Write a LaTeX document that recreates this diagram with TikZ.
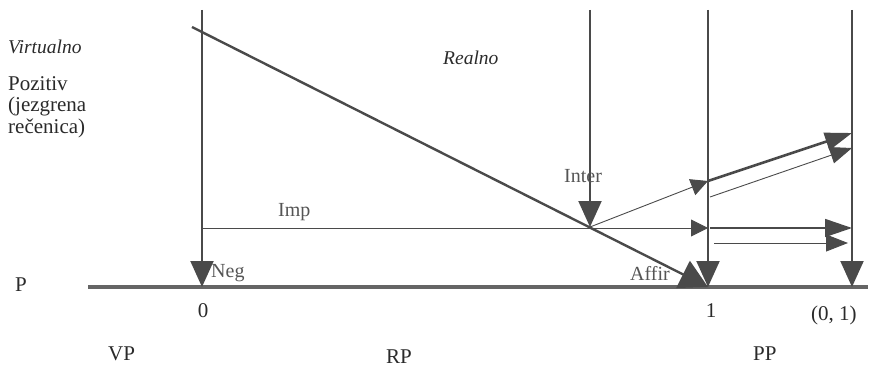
\documentclass[tikz,border=0pt]{standalone}
\usepackage{fontspec}
\setmainfont{Liberation Serif}
\usetikzlibrary{arrows.meta}
\definecolor{ln}{HTML}{4A4A4A}
\definecolor{tx}{HTML}{2A2A2A}
\definecolor{tl}{HTML}{555555}
\begin{document}
\begin{tikzpicture}[x=1pt,y=-1pt,
  lbl/.style={font=\fontsize{21}{21}\selectfont, text=tx, inner sep=0pt, anchor=base west},
  ilbl/.style={lbl, font=\fontsize{19.5}{21}\selectfont\itshape},
  glbl/.style={lbl, text=tl, font=\fontsize{20}{21}\selectfont},
  vline/.style={draw=ln, line width=2pt, -{Triangle[length=26pt,width=23pt]}},
  thinar/.style={draw=ln, line width=0.9pt, -{Triangle[length=17pt,width=17pt]}},
  bigar/.style={draw=ln, line width=1.6pt, -{Triangle[length=27pt,width=18pt]}},
  midar/.style={draw=ln, line width=0.9pt, -{Triangle[length=22pt,width=17pt]}},
  thickar/.style={draw=ln, line width=2.6pt, -{Triangle[length=27pt,width=18pt]}},
]
\useasboundingbox (0,0) rectangle (871,369);
% coordinates
\coordinate (bL) at (88,287);
\coordinate (bR) at (868,287);
\coordinate (z0) at (202,287);
\coordinate (one) at (708,287);
\coordinate (zo) at (852,287);
\coordinate (t0) at (202,10);
\coordinate (tI) at (590,10);
\coordinate (t1) at (708,10);
\coordinate (t2) at (852,10);
\coordinate (dS) at (192,27);
\coordinate (X) at (590,227);
\coordinate (iS) at (202,228);
\coordinate (i1) at (708,228);
\coordinate (i1b) at (710,228);
\coordinate (i2) at (852,228);
\coordinate (l1) at (714,243);
\coordinate (l2) at (848,243);
\coordinate (u1) at (708,181);
\coordinate (u2) at (852,133);
\coordinate (w1) at (710,197);
\coordinate (w2) at (852,148);
% baseline
\draw[draw=ln!85, line width=3.2pt] (bL) -- (bR);
% verticals
\draw[vline] (t0) -- (z0);
\draw[vline] (tI) -- (X);
\draw[vline] (t1) -- (one);
\draw[vline] (t2) -- (zo);
% diagonal
\draw[draw=ln, line width=2.4pt, -{Triangle[length=28pt,width=30pt]}] (dS) -- (one);
% Imp lines
\draw[thinar] (iS) -- (i1);
\draw[bigar] (i1b) -- (i2);
\draw[midar] (l1) -- (l2);
% Inter lines
\draw[thinar] (X) -- (u1);
\draw[thickar] (u1) -- (u2);
\draw[midar] (w1) -- (w2);
% labels
\node[ilbl] (virt) at (8,54) {Virtualno};
\node[lbl] (poz) at (8,91) {Pozitiv};
\node[lbl] (jez) at (8,112) {(jezgrena};
\node[lbl] (rec) at (8,133) {rečenica)};
\node[ilbl] (real) at (443,65) {Realno};
\node[glbl] (inter) at (564,182) {Inter};
\node[glbl] (imp) at (278,216) {Imp};
\node[glbl] (neg) at (211,277) {Neg};
\node[glbl] (affir) at (630,280) {Affir};
\node[lbl] (p) at (15,291) {P};
\node[lbl, anchor=base] (n0) at (203,317) {0};
\node[lbl, anchor=base] (n1) at (711,317) {1};
\node[lbl, anchor=base west] (n01) at (811,320) {(0, 1)};
\node[lbl] (vp) at (108,360) {VP};
\node[lbl] (rp) at (386,363) {RP};
\node[lbl] (pp) at (753,360) {PP};
\end{tikzpicture}
\end{document}
